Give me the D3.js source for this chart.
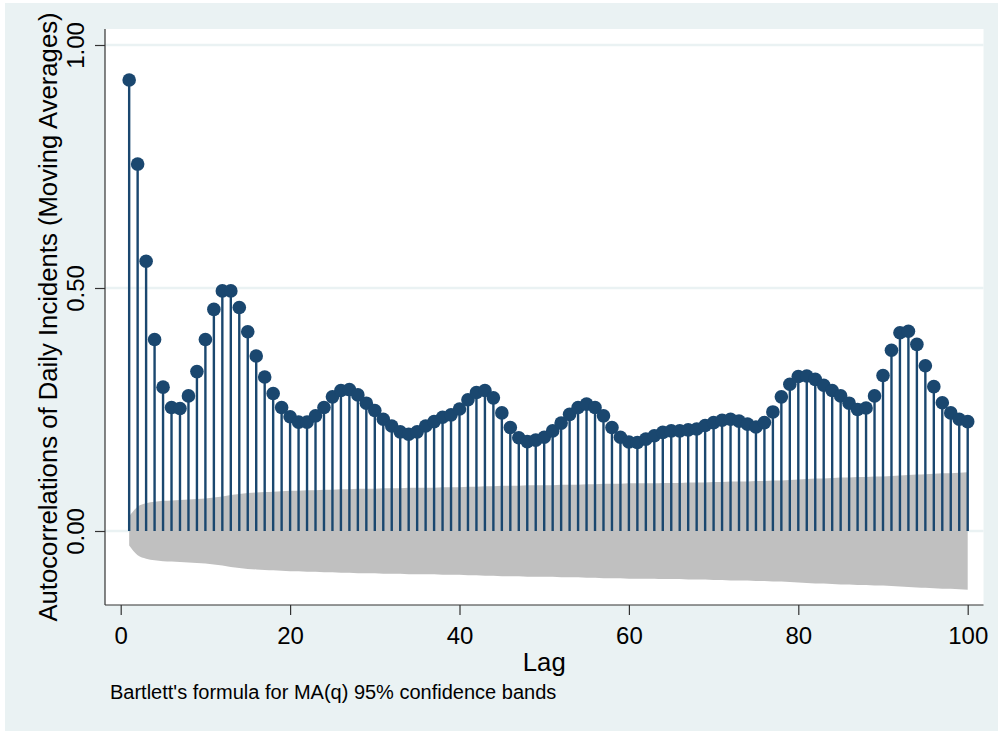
<!DOCTYPE html>
<html>
<head>
<meta charset="utf-8">
<script src="https://cdn.jsdelivr.net/npm/d3@7"></script>
<style>
  body { margin: 0; background: #ffffff; }
  svg { display: block; font-family: "Liberation Sans", Arial, sans-serif; }
</style>
</head>
<body>
<div class="chart"></div>
<script>
// Data
var lags = d3.range(1, 101);
var acfValues = [
  0.928, 0.755, 0.555, 0.394, 0.296, 0.254, 0.252, 0.278, 0.328, 0.394,
  0.456, 0.494, 0.494, 0.460, 0.410, 0.360, 0.317, 0.283, 0.254, 0.235,
  0.224, 0.224, 0.237, 0.254, 0.276, 0.289, 0.291, 0.280, 0.263, 0.248,
  0.230, 0.216, 0.204, 0.199, 0.204, 0.216, 0.225, 0.234, 0.239, 0.251,
  0.270, 0.285, 0.289, 0.274, 0.243, 0.213, 0.192, 0.184, 0.187, 0.193,
  0.206, 0.222, 0.240, 0.254, 0.261, 0.254, 0.237, 0.213, 0.193, 0.183,
  0.182, 0.189, 0.196, 0.203, 0.206, 0.206, 0.208, 0.210, 0.217, 0.223,
  0.228, 0.230, 0.226, 0.220, 0.214, 0.223, 0.245, 0.276, 0.302, 0.318,
  0.319, 0.312, 0.300, 0.289, 0.278, 0.263, 0.250, 0.253, 0.278, 0.320,
  0.372, 0.408, 0.411, 0.384, 0.340, 0.297, 0.264, 0.243, 0.230, 0.225
];
// upper edge of the 95% band (lower edge is the mirror)
var bandUpper = [
  0.030, 0.050, 0.057, 0.060, 0.062, 0.063, 0.064, 0.065, 0.066, 0.067,
  0.069, 0.071, 0.074, 0.076, 0.078, 0.079, 0.080, 0.081, 0.082, 0.083,
  0.083, 0.084, 0.084, 0.085, 0.085, 0.086, 0.086, 0.087, 0.087, 0.087,
  0.088, 0.088, 0.088, 0.089, 0.089, 0.089, 0.089, 0.090, 0.090, 0.090,
  0.091, 0.091, 0.092, 0.092, 0.093, 0.093, 0.093, 0.094, 0.094, 0.094,
  0.094, 0.095, 0.095, 0.095, 0.096, 0.096, 0.097, 0.097, 0.097, 0.098,
  0.098, 0.098, 0.098, 0.099, 0.099, 0.099, 0.100, 0.100, 0.100, 0.101,
  0.101, 0.102, 0.102, 0.102, 0.103, 0.103, 0.104, 0.104, 0.105, 0.106,
  0.107, 0.108, 0.108, 0.109, 0.110, 0.110, 0.111, 0.111, 0.112, 0.112,
  0.113, 0.114, 0.115, 0.116, 0.117, 0.118, 0.119, 0.119, 0.120, 0.121
];
var xTicks = [0, 20, 40, 60, 80, 100];
var yTicks = [0, 0.5, 1];
var yTitle = "Autocorrelations of Daily Incidents (Moving Averages)";
var xTitle = "Lag";
var note = "Bartlett's formula for MA(q) 95% confidence bands";

var svgWidth = 998;
var svgHeight = 731;

// plot region box
var plot = { left: 105, right: 983.5, top: 29, bottom: 605 };

var navy = "#1a476f";
var bg = "#eaf2f3";

var svg = d3.select(".chart")
  .append("svg")
  .attr("width", svgWidth)
  .attr("height", svgHeight);

// outer graph background
svg.append("rect")
  .attr("x", 5)
  .attr("y", 3)
  .attr("width", svgWidth - 5)
  .attr("height", svgHeight - 3)
  .attr("fill", bg);

svg.append("rect")
  .attr("x", plot.left)
  .attr("y", plot.top)
  .attr("width", plot.right - plot.left)
  .attr("height", plot.bottom - plot.top)
  .attr("fill", "#ffffff");

var x = d3.scaleLinear().domain([0, 100]).range([120.7, 967.7]);
var y = d3.scaleLinear().domain([0, 1]).range([531, 45]);

// gridlines
svg.append("g")
  .selectAll("line")
  .data(yTicks)
  .enter()
  .append("line")
  .attr("x1", plot.left)
  .attr("x2", plot.right)
  .attr("y1", d => y(d))
  .attr("y2", d => y(d))
  .attr("stroke", bg)
  .attr("stroke-width", 2.5);

// confidence band
var band = lags.map((k, i) => ({ lag: k, hi: bandUpper[i] }));
svg.append("path")
  .datum(band)
  .attr("fill", "#c0c0c0")
  .attr("d", d3.area()
    .curve(d3.curveMonotoneX)
    .x(d => x(d.lag))
    .y0(d => y(-d.hi))
    .y1(d => y(d.hi)));

// spikes and markers
var points = lags.map((k, i) => ({ lag: k, r: acfValues[i] }));

svg.append("g")
  .selectAll("line")
  .data(points)
  .enter()
  .append("line")
  .attr("x1", d => x(d.lag))
  .attr("x2", d => x(d.lag))
  .attr("y1", y(0))
  .attr("y2", d => y(d.r))
  .attr("stroke", navy)
  .attr("stroke-width", 2.4);

svg.append("g")
  .selectAll("circle")
  .data(points)
  .enter()
  .append("circle")
  .attr("cx", d => x(d.lag))
  .attr("cy", d => y(d.r))
  .attr("r", 6.8)
  .attr("fill", navy);

// axes
var leftAxis = d3.axisLeft(y)
  .tickValues(yTicks)
  .tickFormat(d3.format(".2f"))
  .tickSize(10)
  .tickPadding(0);

var yAxis = svg.append("g")
  .attr("transform", `translate(${plot.left}, 0)`)
  .call(leftAxis);
yAxis.select(".domain").remove();
yAxis.selectAll(".tick line").attr("stroke", "#333").attr("stroke-width", 1.2);
yAxis.selectAll(".tick text")
  .attr("x", 0)
  .attr("y", 0)
  .attr("dy", null)
  .attr("transform", "translate(-21, 0) rotate(-90)")
  .attr("text-anchor", "middle")
  .attr("font-size", 24)
  .attr("font-family", "Liberation Sans, Arial, sans-serif")
  .attr("fill", "#000");

var bottomAxis = d3.axisBottom(x)
  .tickValues(xTicks)
  .tickSize(10)
  .tickPadding(0);

var xAxis = svg.append("g")
  .attr("transform", `translate(0, ${plot.bottom})`)
  .call(bottomAxis);
xAxis.select(".domain").remove();
xAxis.selectAll(".tick line").attr("stroke", "#333").attr("stroke-width", 1.2);
xAxis.selectAll(".tick text")
  .attr("y", 39)
  .attr("dy", null)
  .attr("font-size", 24)
  .attr("font-family", "Liberation Sans, Arial, sans-serif")
  .attr("fill", "#000");

// axis lines
svg.append("line")
  .attr("x1", plot.left).attr("x2", plot.left)
  .attr("y1", plot.top).attr("y2", plot.bottom)
  .attr("stroke", "#333").attr("stroke-width", 1.2);
svg.append("line")
  .attr("x1", plot.left).attr("x2", plot.right)
  .attr("y1", plot.bottom).attr("y2", plot.bottom)
  .attr("stroke", "#333").attr("stroke-width", 1.2);

// titles
svg.append("text")
  .attr("transform", `translate(57, ${(plot.top + plot.bottom) / 2}) rotate(-90)`)
  .attr("text-anchor", "middle")
  .attr("font-size", 25.7)
  .attr("fill", "#000")
  .text(yTitle);

svg.append("text")
  .attr("x", (plot.left + plot.right) / 2)
  .attr("y", 671)
  .attr("text-anchor", "middle")
  .attr("font-size", 25.7)
  .attr("fill", "#000")
  .text(xTitle);

svg.append("text")
  .attr("x", 110)
  .attr("y", 699)
  .attr("font-size", 20)
  .attr("fill", "#000")
  .text(note);
</script>
</body>
</html>
